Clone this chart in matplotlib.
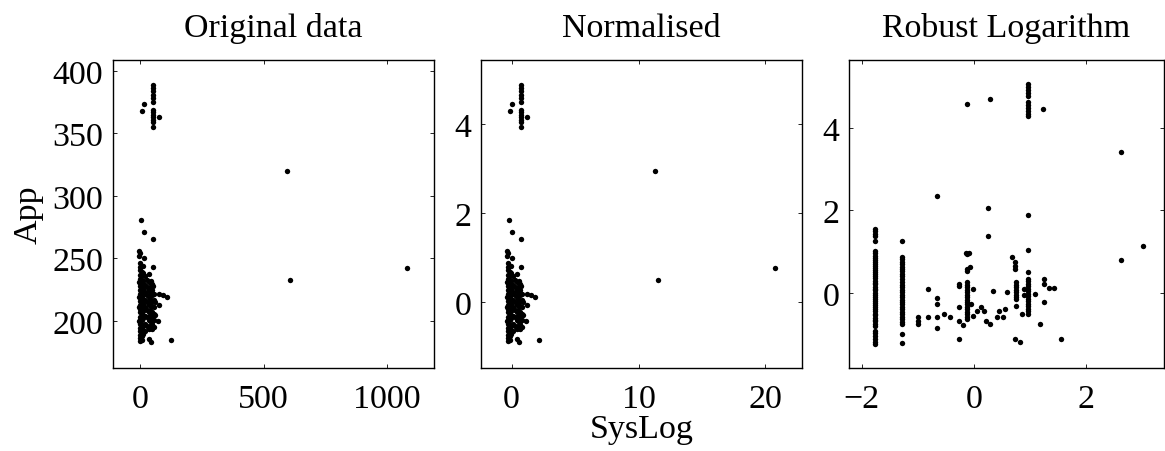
"""Three-panel scatter: raw, normalised and robust-log SysLog vs App."""

import matplotlib

matplotlib.use("Agg")

import matplotlib.pyplot as plt
import numpy as np


# ---- raw data (panel 1) ----
# dense column near SysLog = 0
raw_x = (
    [0] * 22
    + [6] * 19
    + [12] * 10
    + [-3] * 6
)
raw_y = (
    [184, 186.5, 189, 192, 194.5, 198, 201, 203.5, 207, 210, 212.5, 216,
     219, 221.5, 225, 228, 230.5, 234, 237, 240.5, 243, 246.5]
    + [185, 188, 191.5, 194, 197, 200.5, 203, 206, 209.5, 212, 215, 218.5,
       221, 224, 227.5, 230, 233, 236.5, 239]
    + [190, 196, 202.5, 208, 214, 220.5, 226, 232, 238.5, 244]
    + [200, 211, 219, 231, 252, 256]
)
# filling between the two columns
raw_x += [20] * 8 + [27] * 7 + [34] * 7
raw_y += (
    [192, 198, 204, 211, 217, 223, 229, 236]
    + [196, 203, 209, 215, 221, 227, 233]
    + [194, 201, 207, 213, 219, 225, 231]
)
# second column near SysLog = 50
raw_x += [40] * 8 + [48] * 9 + [55] * 6 + [62] * 2
raw_y += (
    [196, 200, 204, 209, 214, 218, 223, 227]
    + [194, 198, 203, 207, 212, 216, 221, 225, 230]
    + [195, 201, 206, 211, 217, 222]
    + [205, 215]
)
# scattered points of the lower group
raw_x += [3, 17, 51, -2, 17, 51, 34, 44, 51, 78, 94, 108, 78, 71, 124, 34, 44]
raw_y += [280.7, 271.2, 265.9, 254.2, 250.0, 243.0, 238, 232, 228, 222, 220.5,
          219.5, 213, 200, 185, 185.5, 183.5]
# upper group
raw_x += [51] * 13 + [8, 17, 78]
raw_y += [388.8, 386.2, 383.5, 380.9, 378.2, 374.7, 368.9, 366.8, 364.9,
          363.1, 361.0, 359.1, 355.1, 368, 373.4, 362.8]
# outliers
raw_x += [594, 607, 1082]
raw_y += [319.8, 232.9, 242.8]

# normalisation constants (mean / std of the raw series)
x_mean, x_std = 14.0, 51.4
y_mean, y_std = 215.1, 35.5

# ---- robust logarithm (panel 3) ----
log_x = (
    [-1.77] * 48
    + [-1.29] * 31
    + [-1.0] * 3
)
log_y = (
    [1.55, 1.49, 1.43, 1.38, 1.25, 1.01, 0.96, 0.90, 0.85, 0.81, 0.75, 0.70,
     0.66, 0.60, 0.55, 0.51, 0.45, 0.40, 0.36, 0.30, 0.25, 0.21, 0.15, 0.10,
     0.06, 0.0, -0.05, -0.09, -0.15, -0.20, -0.24, -0.30, -0.35, -0.39, -0.45,
     -0.50, -0.54, -0.60, -0.65, -0.69, -0.75, -0.80, -0.92, -0.98, -1.05,
     -1.12, -1.18, -1.24]
    + [1.25, 0.88, 0.82, 0.76, 0.70, 0.64, 0.58, 0.52, 0.46, 0.40, 0.33, 0.27,
       0.20, 0.14, 0.08, 0.02, -0.04, -0.10, -0.16, -0.22, -0.28, -0.34,
       -0.40, -0.46, -0.52, -0.58, -0.64, -0.70, -0.76, -0.99, -1.22]
    + [-0.59, -0.67, -0.75]
)
log_x += [-0.815, -0.815, -0.665, -0.665, -0.665, -0.665, -0.653, -0.527,
          -0.426, -0.258, -0.258, -0.258, -0.258, -0.258, -0.186, -0.126,
          -0.138, -0.114, -0.079, -0.126, -0.126, -0.067]
log_y += [0.095, -0.591, -0.131, -0.268, -0.591, -0.849, 2.355, -0.510,
          -0.591, 0.159, 0.22, -0.349, -0.672, -1.116, -0.769, 4.590,
          0.967, 0.942, 0.967, 0.579, 0.54, 0.620]
log_x += [-0.12] * 16
log_y += [0.26, 0.20, 0.14, 0.08, 0.02, -0.04, -0.10, -0.16, -0.22, -0.28,
          -0.34, -0.40, -0.46, -0.52, -0.58, -0.63]
log_x += [-0.007, -0.055, -0.007, 0.053, 0.125, 0.185, 0.221, 0.292, 0.292,
          0.251, 0.251, 0.352, 0.412, 0.454, 0.514, 0.562, 0.592, 0.675,
          0.735, 0.735, 0.735]
log_y += [0.095, -0.268, -0.551, -0.430, -0.349, -0.430, -0.672, -0.753,
          4.695, 2.048, 1.386, 0.055, -0.591, -0.430, -0.591, -0.389, 0.014,
          0.862, 0.74, 0.66, 0.58]
log_x += [0.753] * 8 + [0.753, 0.735, 0.831, 0.867]
log_y += [0.26, 0.20, 0.14, 0.08, 0.02, -0.04, -0.10, -0.15,
          -0.309, -1.108, -1.196, -0.510]
log_x += [0.963] * 11 + [1.232, 0.963, 0.963, 0.963]
log_y += [5.06, 4.99, 4.92, 4.85, 4.78, 4.62, 4.55, 4.48, 4.41, 4.35, 4.29,
          4.469, 1.895, 1.039, 0.515]
log_x += [0.963] * 15 + [0.90, 0.90]
log_y += [0.34, 0.28, 0.22, 0.16, 0.10, 0.04, -0.02, -0.08, -0.14, -0.20,
          -0.26, -0.32, -0.38, -0.45, -0.51, 0.10, -0.05]
log_x += [1.094, 1.190, 1.250, 1.250, 1.250, 1.340, 1.429, 1.555, 2.626,
          2.638, 3.033]
log_y += [-0.026, -0.761, 0.337, 0.216, -0.228, 0.127, 0.127, -1.108, 3.428,
          0.797, 1.144]

titles = ["Original data", "Normalised", "Robust Logarithm"]

raw_x = np.array(raw_x, dtype=float)
raw_y = np.array(raw_y, dtype=float)
norm_x = (raw_x - x_mean) / x_std
norm_y = (raw_y - y_mean) / y_std

plt.rcParams["font.family"] = ["Liberation Serif", "DejaVu Serif"]
plt.rcParams["axes.unicode_minus"] = True

FS = 24.5

fig = plt.figure(figsize=(11.65, 4.52), dpi=100)
W, H = 1165, 452
boxes = [(113, 434), (481, 802), (849, 1164)]
top, bottom = 60.5, 369

panels = [
    (raw_x, raw_y, (-110, 1190), (162.5, 409), [0, 500, 1000], [200, 250, 300, 350, 400]),
    (norm_x, norm_y, ((-110 - x_mean) / x_std, (1190 - x_mean) / x_std),
     ((162.5 - y_mean) / y_std, (409 - y_mean) / y_std), [0, 10, 20], [0, 2, 4]),
    (np.array(log_x), np.array(log_y), (-2.23, 3.40), (-1.82, 5.66), [-2, 0, 2], [0, 2, 4]),
]

axes = []
for (l, r), (xs, ys, xl, yl, xt, yt), title in zip(boxes, panels, titles):
    ax = fig.add_axes([l / W, 1 - bottom / H, (r - l) / W, (bottom - top) / H])
    ax.scatter(xs, ys, s=15, color="black", linewidths=0)
    ax.set_xlim(xl)
    ax.set_ylim(yl)
    ax.set_xticks(xt)
    ax.set_yticks(yt)
    ax.set_xticklabels([str(v).replace("-", "\u2212") for v in xt])
    ax.set_yticklabels([str(v).replace("-", "\u2212") for v in yt])
    ax.tick_params(direction="in", length=3, width=0.6, top=True, right=True,
                   labelsize=FS)
    ax.tick_params(axis="x", pad=11)
    ax.tick_params(axis="y", pad=7)
    for sp in ax.spines.values():
        sp.set_linewidth(1.0)
    ax.set_title(title, fontsize=FS, pad=17)
    axes.append(ax)

axes[0].set_ylabel("App", fontsize=FS, labelpad=6)
axes[1].set_xlabel("SysLog", fontsize=FS, labelpad=0)

fig.savefig("out.png", dpi=100)
